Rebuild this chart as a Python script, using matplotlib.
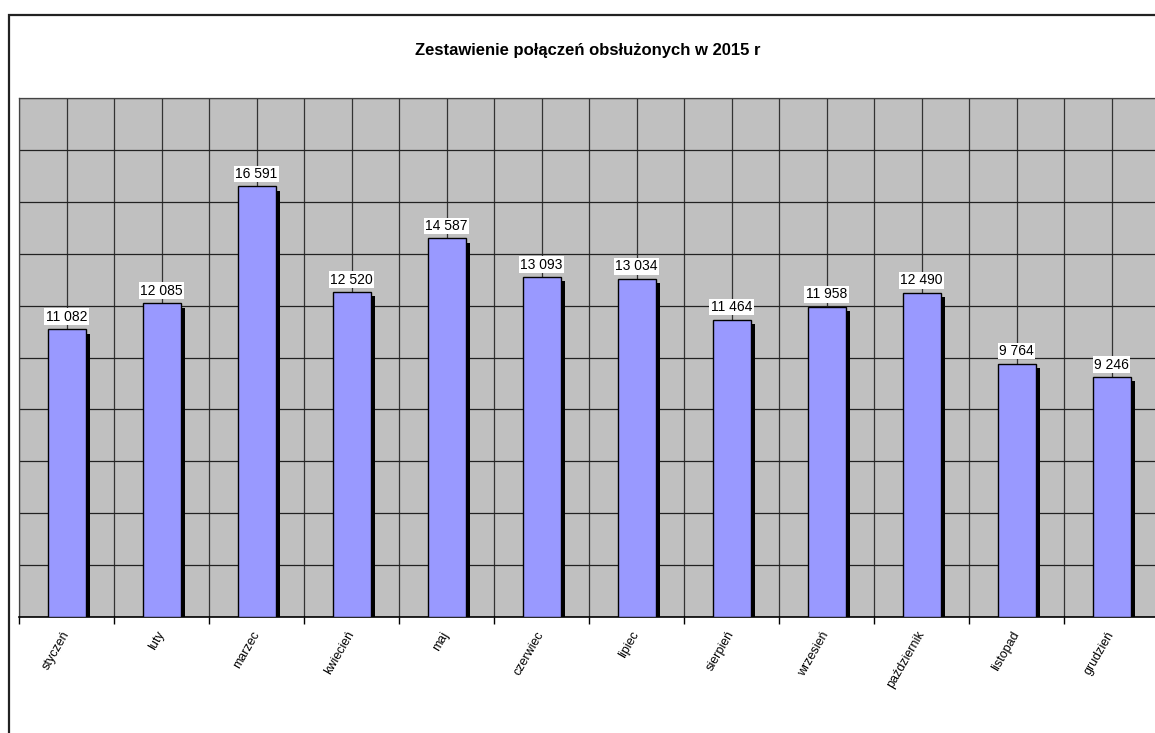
import matplotlib
matplotlib.use("Agg")
import matplotlib.pyplot as plt
import matplotlib.patheffects as pe
from matplotlib.patches import Rectangle
import numpy as np

months = ["styczeń", "luty", "marzec", "kwiecień", "maj", "czerwiec",
          "lipiec", "sierpień", "wrzesień", "październik", "listopad", "grudzień"]
calls = [11082, 12085, 16591, 12520, 14587, 13093,
         13034, 11464, 11958, 12490, 9764, 9246]
title = "Zestawienie połączeń obsłużonych w 2015 r"

W, H = 1155, 733
plt.rcParams["font.family"] = ["Liberation Sans", "DejaVu Sans"]

fig = plt.figure(figsize=(W / 100, H / 100), dpi=100)
fig.patch.set_facecolor("white")

# outer chart border (runs off the right and bottom of the image)
fig.patches.append(Rectangle((9 / W, -0.1), 1.2, 1 - 15 / H + 0.1,
                             transform=fig.transFigure, fill=False,
                             edgecolor="#222222", linewidth=1.6))

fig.text(588 / W, 1 - 51 / H, title, ha="center", va="center",
         fontsize=12, fontweight="bold")

ax = fig.add_axes([19 / W, (H - 617) / H, 1140 / W, (617 - 98) / H])
ax.set_facecolor("#C0C0C0")

x = np.arange(len(months))
bars = ax.bar(x, calls, width=0.4, color="#9999FF", edgecolor="black",
              linewidth=1.0, zorder=3)
for b in bars:
    b.set_path_effects([pe.SimplePatchShadow(offset=(3, -3), shadow_rgbFace="black", alpha=1.0),
                        pe.Normal()])

for xi, v in zip(x, calls):
    ax.annotate(f"{v:,}".replace(",", " "), (xi, v), xytext=(0, 4),
                textcoords="offset points", ha="center", va="bottom",
                fontsize=10, zorder=5,
                bbox=dict(boxstyle="square,pad=0.1", facecolor="white", edgecolor="none"))

ax.set_xlim(-0.5, len(months) - 0.5)
ax.set_ylim(0, 20000)
ax.set_yticks(np.arange(0, 20001, 2000))
ax.set_yticklabels([])
ax.tick_params(axis="y", length=0)

ax.set_xticks(x)
ax.set_xticks(np.arange(-0.5, len(months), 1.0), minor=True)
ax.set_xticklabels(months, rotation=60, ha="right", va="center",
                   rotation_mode="anchor", fontsize=9)
ax.tick_params(axis="x", which="major", length=0, pad=11)
ax.tick_params(axis="x", which="minor", length=5, width=1.0, direction="out")

ax.grid(axis="y", color="#222222", linewidth=0.9, zorder=0)
ax.grid(axis="x", which="both", color="#333333", linewidth=0.9, zorder=0)
ax.set_axisbelow(True)

for s in ["top", "left", "right"]:
    ax.spines[s].set_color("#444444")
    ax.spines[s].set_linewidth(0.9)
ax.spines["bottom"].set_color("black")
ax.spines["bottom"].set_linewidth(1.2)

fig.savefig("out.png", dpi=100)
